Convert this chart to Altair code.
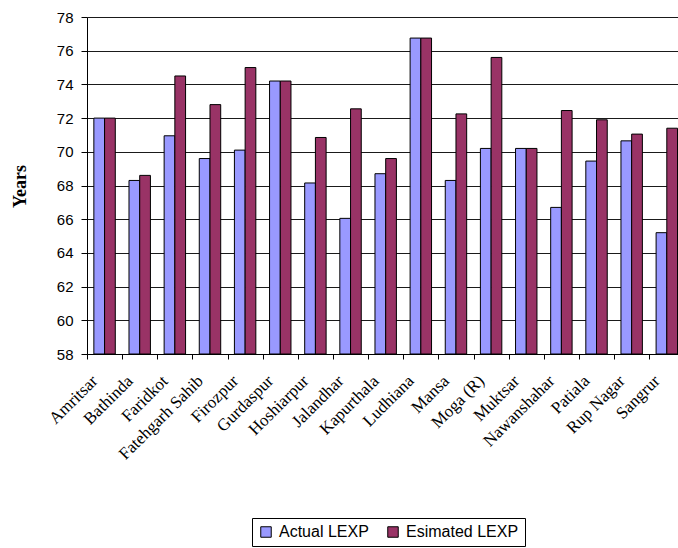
import altair as alt
import pandas as pd

# Life expectancy (years) by district of Punjab
districts = [
    "Amritsar", "Bathinda", "Faridkot", "Fatehgarh Sahib", "Firozpur",
    "Gurdaspur", "Hoshiarpur", "Jalandhar", "Kapurthala", "Ludhiana",
    "Mansa", "Moga (R)", "Muktsar", "Nawanshahar", "Patiala",
    "Rup Nagar", "Sangrur",
]
actual_lexp = [
    72.0, 68.3, 70.95, 69.6, 70.1,
    74.2, 68.15, 66.05, 68.7, 76.75,
    68.3, 70.2, 70.2, 66.7, 69.45,
    70.65, 65.2,
]
estimated_lexp = [
    72.0, 68.6, 74.5, 72.8, 75.0,
    74.2, 70.85, 72.55, 69.6, 76.75,
    72.25, 75.6, 70.2, 72.45, 71.9,
    71.05, 71.4,
]
series_names = ["Actual LEXP", "Esimated LEXP"]
series_colors = ["#9999FF", "#993366"]
y_ticks = list(range(58, 79, 2))

rows = []
for name, act, est in zip(districts, actual_lexp, estimated_lexp):
    rows.append({"District": name, "Series": series_names[0], "LEXP": act})
    rows.append({"District": name, "Series": series_names[1], "LEXP": est})
df = pd.DataFrame(rows)

plot_w = 591
plot_h = 337
band_step = 35.14
x_extent = band_step * len(districts)  # last band runs past the right edge

serif = "Liberation Serif"
sans = "Liberation Sans"

bars = alt.Chart(df).mark_bar(stroke="black", strokeWidth=1).encode(
    x=alt.X(
        "District:N",
        sort=districts,
        scale=alt.Scale(range=[0, x_extent], paddingInner=0, paddingOuter=0),
        axis=alt.Axis(
            title="District",
            titleFont=serif,
            titleFontSize=18,
            titleFontWeight="bold",
            titleColor="black",
            titleX=299,
            titleY=468,
            titleAlign="center",
            titleBaseline="middle",
            tickBand="extent",
            tickSize=5,
            tickColor="black",
            domainColor="black",
            labelAngle=-45,
            labelAlign="right",
            labelBaseline="middle",
            labelFont=serif,
            labelFontSize=17,
            labelColor="black",
            labelOffset=-10,
            labelPadding=19,
            labelOverlap=False,
            grid=False,
        ),
    ),
    xOffset=alt.XOffset(
        "Series:N",
        sort=series_names,
        scale=alt.Scale(paddingInner=0, paddingOuter=0.64),
    ),
    y=alt.Y(
        "LEXP:Q",
        scale=alt.Scale(domain=[58, 78], nice=False, zero=False),
        axis=alt.Axis(
            values=y_ticks,
            title="Years",
            titleFont=serif,
            titleFontSize=18,
            titleFontWeight="bold",
            titleColor="black",
            titleAngle=270,
            titleX=-67,
            titleY=169,
            titleAlign="center",
            titleBaseline="middle",
            labelFont=sans,
            labelFontSize=15,
            labelColor="black",
            labelPadding=8,
            tickSize=6,
            tickColor="black",
            domainColor="black",
            grid=True,
            gridColor="#1a1a1a",
            gridWidth=1,
        ),
    ),
    y2=alt.datum(58),
    color=alt.Color(
        "Series:N",
        sort=series_names,
        scale=alt.Scale(domain=series_names, range=series_colors),
        legend=alt.Legend(
            title=None,
            orient="none",
            direction="horizontal",
            legendX=165,
            legendY=501,
            symbolType="square",
            symbolSize=110,
            symbolStrokeColor="black",
            symbolStrokeWidth=1,
            labelFont=sans,
            labelFontSize=16,
            labelColor="black",
            labelOffset=5,
            columnPadding=16,
            padding=6,
            strokeColor="black",
            fillColor="white",
        ),
    ),
)

chart = bars.properties(
    width=plot_w,
    height=plot_h,
    autosize=alt.AutoSizeParams(type="none"),
    padding={"left": 87, "top": 17, "right": 0, "bottom": 194},
).configure_view(
    fill="#C0C0C0",
    stroke="#808080",
).configure(background="white")

chart.save("out.html", embed_options={"renderer": "svg", "actions": False})
